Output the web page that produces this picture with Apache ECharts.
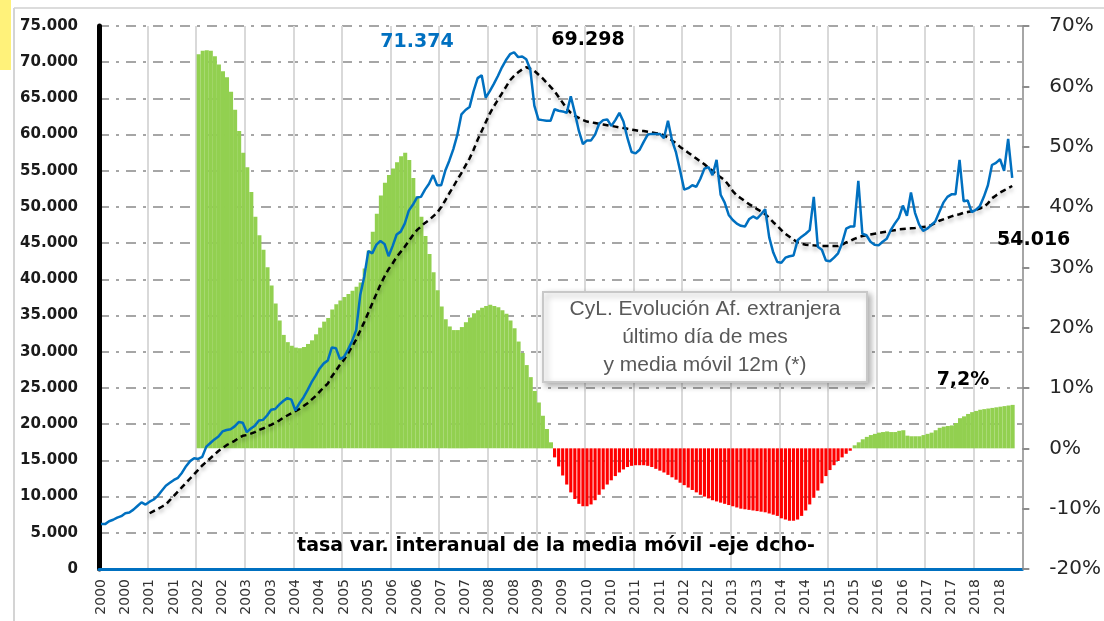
<!DOCTYPE html>
<html><head><meta charset="utf-8">
<script src="https://cdn.jsdelivr.net/npm/echarts@6/dist/echarts.min.js"></script>
<style>html,body{margin:0;padding:0;background:#fff}#c{width:1104px;height:621px}</style>
</head><body><div id="c"></div>
<script>
// Years on the category axis (monthly categories Jan 2000 - Dec 2018)
const years = [2000,2001,2002,2003,2004,2005,2006,2007,2008,2009,2010,2011,2012,2013,2014,2015,2016,2017,2018];
// Affiliates (thousands), last day of month, from Jan 2000
const affiliates = [
6.2,6.2,6.6,6.8,7.1,7.3,7.7,7.8,8.2,8.7,9.2,8.9,
9.3,9.6,10.1,10.8,11.5,11.9,12.3,12.6,13.3,14.2,14.9,15.3,
15.2,15.5,16.9,17.4,17.9,18.3,19.0,19.2,19.3,19.7,20.3,20.2,
18.9,19.4,19.8,20.5,20.6,21.2,22.0,22.1,22.7,23.2,23.6,23.4,
21.9,22.9,23.7,24.7,25.8,26.7,27.7,28.4,28.8,30.6,30.5,29.0,
29.3,30.3,31.5,33.0,37.8,40.4,43.9,43.6,44.8,45.3,44.9,43.2,
44.6,46.2,46.6,47.7,49.5,50.3,51.3,51.4,52.4,53.2,54.4,53.0,
53.0,55.0,56.4,58.0,60.0,62.8,63.4,63.8,66.0,67.8,68.2,65.1,
66.0,67.0,68.1,69.3,70.3,71.1,71.374,70.7,70.8,70.4,69.0,64.0,
62.1,62.0,61.9,61.9,63.5,63.3,63.2,63.0,65.3,63.0,60.5,58.7,
59.2,59.2,60.0,61.5,62.0,62.1,61.2,62.0,63.0,61.8,59.5,57.6,
57.4,57.9,59.0,60.0,60.1,60.1,60.1,59.5,61.9,59.2,57.5,55.0,
52.4,52.6,53.0,52.8,53.9,55.3,55.5,54.4,56.5,51.7,50.6,48.9,
48.2,47.7,47.4,47.3,48.3,48.7,48.4,49.0,49.7,45.8,43.7,42.4,
42.3,43.0,43.2,43.3,45.4,45.9,46.3,46.8,51.4,44.5,44.1,42.6,
42.5,43.0,43.6,45.0,47.0,47.3,47.3,53.6,46.3,46.1,45.2,44.8,
44.7,45.2,45.6,46.8,47.7,48.5,50.2,48.8,52.0,49.2,47.6,46.7,
47.0,47.5,48.0,49.3,50.6,51.4,51.75,51.75,56.5,50.8,50.9,49.3,
49.6,50.1,51.4,53.0,55.8,56.1,56.6,55.0,59.4,54.016
];
// 12-month moving average (thousands), starts Jan 2001
const movingAvgStart = 12;
const movingAvg = [
7.7,8.0,8.3,8.6,8.9,9.5,10.1,10.7,11.3,11.9,12.5,13.1,
13.7,14.3,14.8,15.3,15.8,16.3,16.7,17.1,17.4,17.7,18.1,18.4,
18.5,18.7,18.9,19.2,19.4,19.7,19.9,20.2,20.5,20.9,21.2,21.5,
21.8,22.1,22.5,22.9,23.4,23.9,24.5,25.1,25.6,26.6,27.4,28.2,
28.9,29.8,30.7,31.7,32.9,34.1,35.4,36.7,38.0,39.3,40.4,41.4,
42.2,43.1,43.8,44.5,45.3,46.1,46.8,47.3,47.8,48.2,48.7,49.2,
50.0,50.9,51.9,52.8,53.8,54.7,55.7,56.7,57.9,59.3,60.5,61.7,
62.9,63.9,64.8,65.7,66.6,67.5,68.1,68.6,69.0,69.298,69.1,68.8,
68.3,67.8,67.2,66.6,66.0,65.2,64.4,63.6,63.0,62.6,62.3,62.0,
61.8,61.7,61.6,61.5,61.4,61.3,61.2,61.1,61.0,60.9,60.8,60.7,
60.6,60.5,60.5,60.4,60.3,60.2,60.1,59.9,59.6,59.2,58.8,58.3,
57.9,57.5,57.1,56.7,56.3,55.9,55.4,55.0,54.5,54.1,53.7,53.0,
52.2,51.6,51.2,50.8,50.4,50.1,49.7,49.4,49.0,48.5,47.9,47.4,
46.8,46.3,45.9,45.5,45.1,44.9,44.8,44.75,44.7,44.65,44.6,44.6,
44.6,44.6,44.6,44.8,45.1,45.3,45.6,45.8,46.0,46.1,46.2,46.3,
46.4,46.5,46.6,46.7,46.8,46.9,46.95,47.0,47.05,47.1,47.2,47.25,
47.3,47.5,47.8,48.1,48.3,48.5,48.7,48.9,49.0,49.2,49.3,49.4,
49.6,49.8,50.0,50.5,51.2,51.6,52.0,52.3,52.6,52.9
];
// Year-on-year rate of the moving average (%), starts Jan 2002
const yoyStart = 24;
const yoyRate = [
65.3,65.9,66.0,65.9,65.0,63.6,62.5,61.5,59.1,56.1,52.6,49.0,
46.6,42.5,38.4,35.3,32.9,30.0,27.0,24.0,21.2,18.8,17.6,17.0,
16.7,16.6,16.8,17.3,17.9,18.9,20.0,21.0,21.6,23.0,23.9,24.5,
25.1,25.6,26.1,26.8,27.5,29.8,32.8,35.9,38.9,41.9,44.0,45.3,
46.4,47.4,48.4,49.0,47.8,44.8,41.8,38.4,35.2,32.2,29.2,26.2,
23.5,21.4,20.2,19.6,19.6,20.1,20.9,21.7,22.4,22.9,23.3,23.6,
23.8,23.6,23.4,22.9,22.3,21.2,19.9,17.7,15.8,13.8,11.8,9.5,
7.6,5.4,3.2,1.0,-1.5,-3.0,-4.5,-6.0,-7.3,-8.4,-9.2,-9.6,
-9.6,-9.3,-8.6,-7.7,-6.8,-6.0,-5.3,-4.6,-4.0,-3.5,-3.1,-2.9,
-2.8,-2.8,-2.8,-2.9,-3.1,-3.4,-3.7,-4.0,-4.4,-4.8,-5.2,-5.7,
-6.1,-6.5,-6.9,-7.3,-7.7,-8.0,-8.3,-8.6,-8.8,-9.0,-9.2,-9.4,
-9.6,-9.8,-10.0,-10.1,-10.2,-10.3,-10.4,-10.5,-10.6,-10.8,-11.0,-11.2,
-11.6,-11.8,-12.0,-12.0,-11.8,-11.2,-10.3,-9.3,-8.2,-7.0,-5.8,-4.6,
-3.6,-2.8,-2.1,-1.5,-0.9,-0.4,0.5,1.0,1.5,1.9,2.2,2.4,
2.6,2.7,2.8,2.7,2.7,2.9,3.0,2.1,2.0,2.0,2.0,2.2,
2.4,2.6,3.0,3.4,3.6,3.7,3.8,4.2,5.0,5.3,5.7,6.0,
6.2,6.4,6.5,6.6,6.7,6.8,6.9,7.0,7.1,7.2
];
const leftTicks = {min:0, max:75, interval:5};
const rightTicks = {min:-20, max:70, interval:10};
const boxLines = ['CyL. Evolución Af. extranjera','último día de mes','y media móvil 12m (*)'];
const bottomNote = 'tasa var. interanual de la media móvil -eje dcho-';

const months = [];
years.forEach(y => { for (let m = 1; m <= 12; m++) months.push(y + '-' + (m < 10 ? '0' + m : m)); });
const pad = (arr, start) => months.map((_, i) => (i >= start && i - start < arr.length) ? arr[i - start] : null);
const maData = pad(movingAvg, movingAvgStart);
const yoyData = pad(yoyRate, yoyStart);
const posData = yoyData.map(v => (v != null && v >= 0) ? v : null);
const negData = yoyData.map(v => (v != null && v < 0) ? v : null);
const fmtK = v => String(Math.round(v * 1000)).replace(/\B(?=(\d{3})+(?!\d))/g, '.');
const peakAff = fmtK(Math.max(...affiliates));
const peakMA = fmtK(Math.max(...movingAvg));
const lastAff = fmtK(affiliates[affiliates.length - 1]);
const lastYoy = yoyRate[yoyRate.length - 1].toFixed(1).replace('.', ',') + '%';

const chart = echarts.init(document.getElementById('c'), null, {renderer: 'canvas'});
const boldFont = 'bold 19px "DejaVu Sans"';
chart.setOption({
  animation: false,
  backgroundColor: '#fff',
  grid: {left: 99, right: 76, top: 26, bottom: 52, containLabel: false},
  xAxis: {
    type: 'category', data: months, boundaryGap: true,
    axisLine: {lineStyle: {color: '#0070C0', width: 3}},
    axisTick: {interval: 11, length: 6, lineStyle: {color: '#0070C0', width: 2}},
    axisLabel: {interval: 5, rotate: 90, margin: 10, formatter: v => v.slice(0, 4),
      fontFamily: 'DejaVu Sans', fontSize: 14, color: '#333'},
    splitLine: {show: true, interval: 11, lineStyle: {color: '#d9d9d9', width: 2}}
  },
  yAxis: [{
    type: 'value', min: leftTicks.min, max: leftTicks.max, interval: leftTicks.interval, position: 'left',
    axisLine: {show: true, lineStyle: {color: '#000', width: 5}},
    axisTick: {show: false},
    axisLabel: {margin: 21, formatter: v => v === 0 ? '0' : fmtK(v),
      fontFamily: 'DejaVu Sans', fontWeight: 'bold', fontSize: 15, color: '#1a1a1a'},
    splitLine: {show: true, lineStyle: {color: '#a6a6a6', width: 2, type: [10, 7, 3, 7]}}
  }, {
    type: 'value', min: rightTicks.min, max: rightTicks.max, interval: rightTicks.interval, position: 'right',
    axisLine: {show: true, lineStyle: {color: '#a6a6a6', width: 2}},
    axisTick: {show: true, length: 7, lineStyle: {color: '#8c8c8c', width: 2}},
    axisLabel: {margin: 27, formatter: '{value}%', fontFamily: 'DejaVu Sans', fontSize: 20, color: '#262626'},
    splitLine: {show: false}
  }],
  series: [
    {type: 'bar', yAxisIndex: 1, data: posData, barWidth: '100%', barGap: '-100%',
      itemStyle: {color: '#92D050'}, z: 1},
    {type: 'bar', yAxisIndex: 1, data: negData, barWidth: '78%', barGap: '-100%',
      itemStyle: {color: '#FF0000'}, z: 1},
    {type: 'line', yAxisIndex: 0, data: maData, symbol: 'none', connectNulls: false,
      lineStyle: {color: '#000', width: 2.5, type: [6, 4], shadowColor: 'rgba(0,0,0,0.35)', shadowBlur: 4, shadowOffsetY: 3},
      z: 3},
    {type: 'line', yAxisIndex: 0, data: affiliates, symbol: 'none',
      lineStyle: {color: '#0070C0', width: 2.5}, z: 4}
  ],
  graphic: [
    {type: 'rect', left: 0, top: 0, shape: {width: 11, height: 70}, style: {fill: '#FFF27A'}, silent: true},
    {type: 'line', shape: {x1: 14, y1: 8, x2: 1104, y2: 8}, style: {stroke: '#dcdcdc', lineWidth: 2}, silent: true},
    {type: 'line', shape: {x1: 14, y1: 8, x2: 14, y2: 621}, style: {stroke: '#d4d4d4', lineWidth: 2}, silent: true},
    {type: 'text', z: 50, style: {text: peakAff, x: 417, y: 42, font: boldFont, fill: '#0070C0', align: 'center', verticalAlign: 'middle'}},
    {type: 'text', z: 50, style: {text: peakMA, x: 588, y: 40, font: boldFont, fill: '#000', align: 'center', verticalAlign: 'middle'}},
    {type: 'text', z: 50, style: {text: lastAff, x: 997, y: 240, font: boldFont, fill: '#000', align: 'left', verticalAlign: 'middle'}},
    {type: 'text', z: 50, style: {text: lastYoy, x: 963, y: 380, font: boldFont, fill: '#000', align: 'center', verticalAlign: 'middle'}},
    {type: 'text', z: 50, style: {text: bottomNote, x: 556, y: 546, font: boldFont, fill: '#000', align: 'center', verticalAlign: 'middle'}},
    {type: 'rect', z: 40, shape: {x: 543, y: 292, width: 324, height: 90},
      style: {fill: '#fff', stroke: '#c8c8c8', lineWidth: 2, shadowBlur: 6, shadowColor: 'rgba(0,0,0,0.3)', shadowOffsetX: 3, shadowOffsetY: 3}},
    {type: 'text', z: 41, style: {text: boxLines[0], x: 705, y: 309, font: '21px "Liberation Sans"', fill: '#595959', align: 'center', verticalAlign: 'middle'}},
    {type: 'text', z: 41, style: {text: boxLines[1], x: 705, y: 337, font: '21px "Liberation Sans"', fill: '#595959', align: 'center', verticalAlign: 'middle'}},
    {type: 'text', z: 41, style: {text: boxLines[2], x: 705, y: 365, font: '21px "Liberation Sans"', fill: '#595959', align: 'center', verticalAlign: 'middle'}}
  ]
});
</script>
</body></html>
